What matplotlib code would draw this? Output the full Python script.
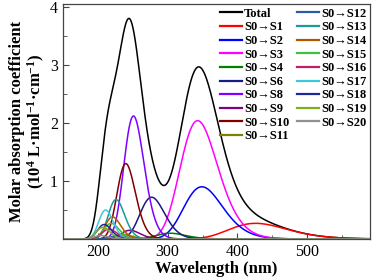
import numpy as np
import matplotlib
matplotlib.use("Agg")
import matplotlib.pyplot as plt
from matplotlib.ticker import MultipleLocator

# ---- data ----
labels = ["S0→S1", "S0→S2", "S0→S3", "S0→S4", "S0→S6", "S0→S8", "S0→S9",
          "S0→S10", "S0→S11", "S0→S12", "S0→S13", "S0→S14", "S0→S15",
          "S0→S16", "S0→S17", "S0→S18", "S0→S19", "S0→S20"]
peak_nm = [426, 349, 343, 303, 277, 251, 246, 240, 235, 230, 226, 221, 219,
           216, 211, 209, 207, 204]
peak_height = [0.27, 0.90, 2.04, 0.10, 0.72, 2.12, 0.15, 1.30, 0.08, 0.06,
               0.68, 0.38, 0.27, 0.17, 0.50, 0.25, 0.20, 0.06]
fwhm_ev = 0.6667  # band broadening (eV)
colors = ["#ff0000", "#0000ff", "#ff00ff", "#008000", "#1a1a80", "#8000ff",
          "#800080", "#800000", "#808000", "#2a5e9e", "#1a9a9a", "#b05a00",
          "#40c040", "#c0206a", "#40c8d8", "#1a2a9a", "#80b020", "#909090"]
x_ticks = [200, 300, 400, 500]
y_ticks = [1, 2, 3, 4]

plt.rcParams['font.family'] = ['Liberation Serif', 'DejaVu Serif']
plt.rcParams['mathtext.fontset'] = 'custom'
plt.rcParams['mathtext.rm'] = 'Liberation Serif:bold'
plt.rcParams['mathtext.bf'] = 'Liberation Serif:bold'
plt.rcParams['mathtext.default'] = 'rm'

fig = plt.figure(figsize=(3.73, 2.80), dpi=100)
ax = fig.add_axes([63/373, 1-239/280, (370-63)/373, (239-4)/280])

wl = np.linspace(150, 590, 2000)
E = 1239.84 / wl
sigma = fwhm_ev / 2.3548
curves = []
for c, h in zip(peak_nm, peak_height):
    e0 = 1239.84 / c
    curves.append(h * np.exp(-(E - e0) ** 2 / (2 * sigma ** 2)))
total = np.sum(curves, axis=0)

ax.plot(wl, total, color="black", lw=1.1, label="Total")
for y, col, lab in zip(curves, colors, labels):
    ax.plot(wl, y, color=col, lw=1.1, label=lab)

ax.set_xlim(150, 590)
ax.set_ylim(0, 4.05)
ax.set_xticks(x_ticks)
ax.xaxis.set_minor_locator(MultipleLocator(50))
ax.set_yticks(y_ticks)
ax.yaxis.set_minor_locator(MultipleLocator(0.5))
ax.tick_params(axis='both', which='both', direction='in', labelsize=11.5,
               color='#444444')
ax.tick_params(which='major', length=4)
ax.tick_params(which='minor', length=3)
for s in ax.spines.values():
    s.set_color('#444444')
    s.set_linewidth(0.9)

ax.set_xlabel("Wavelength (nm)", fontsize=12, fontweight='bold', labelpad=1)
ax.set_ylabel("Molar absorption coefficient\n(10$^{4}$ L·mol$^{-1}$·cm$^{-1}$)",
              fontsize=12, fontweight='bold', labelpad=2, linespacing=1.1)

leg = ax.legend(ncol=2, loc='upper right', frameon=False,
                prop={'size': 9, 'weight': 'bold'},
                handlelength=1.8, handletextpad=0.15, columnspacing=0.6,
                labelspacing=0.13, borderaxespad=0.1, borderpad=0.2)
for l in leg.get_lines():
    l.set_linewidth(1.6)

fig.savefig("out.png", dpi=100)
